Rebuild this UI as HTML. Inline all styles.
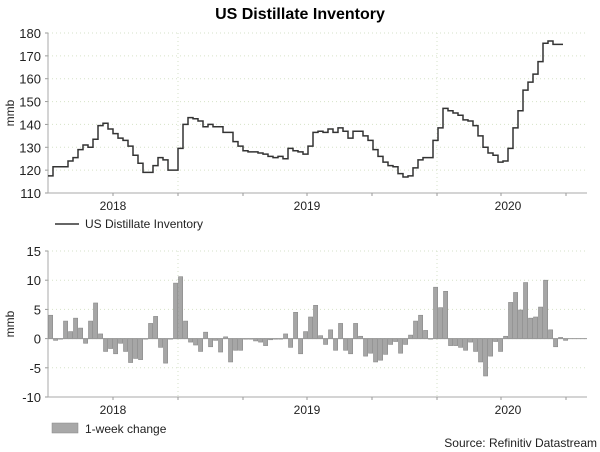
<!DOCTYPE html>
<html><head><meta charset="utf-8">
<style>
html,body{margin:0;padding:0;background:#fff;}
svg{display:block;font-family:"Liberation Sans",Arial,sans-serif;}
</style></head>
<body>
<svg id="c" width="600" height="452" viewBox="0 0 600 452" xmlns="http://www.w3.org/2000/svg">
<text x="300" y="19" text-anchor="middle" font-size="16" font-weight="bold" fill="#000">US Distillate Inventory</text>
<g id="topPanel"></g>
<g id="botPanel"></g>
<g>
<line x1="55" y1="224" x2="79" y2="224" stroke="#333" stroke-width="1.5"/>
<text x="85" y="228" font-size="12" fill="#222">US Distillate Inventory</text>
</g>
<g>
<rect x="52" y="423" width="26" height="10" fill="#a8a8a8" stroke="#888" stroke-width="0.5"/>
<text x="85" y="433" font-size="12" fill="#222">1-week change</text>
</g>
<text x="597" y="447" text-anchor="end" font-size="12" fill="#222">Source: Refinitiv Datastream</text>
</svg>
<script>
const levels = [117.5,121.5,121.5,121.5,124,125.5,129,131,130,133.5,139.5,140.5,138,136,134,133,130.5,126.5,123,119,119,122,125.5,124.5,120,120,129.5,140,143,142.5,141.5,139,140,139,139,136.5,136.5,132.5,130.5,128.5,128,128,127.5,127,126,125.5,126,125,129.5,128.5,128,127,130.5,136.5,137,136.5,138,136.5,138.5,137,134,137,137,135,133,129,126,123.5,122,121.5,118.5,117,117.5,121,124.5,125.5,125.5,133,138.5,147,146,145,144,142,141.5,139.5,135,130,127.5,126.5,123.5,124,129.5,138.5,146,155,158.5,162,167.5,175.5,176.5,175,175];
const changes = [4,-0.3,0,3,1.2,3.5,1.8,-0.8,3,6.1,0.8,-2.2,-1.7,-2.6,-0.8,-2.2,-4.1,-3.4,-3.6,0,2.6,3.8,-1.5,-4.2,0,9.5,10.6,3,-0.6,-1.1,-2.2,1.1,-1.4,-0.3,-2.3,0.3,-4,-2,-2,0,0,-0.4,-0.6,-1.2,-0.2,0,0,0.8,-1.5,4.5,-2.6,1.2,3.7,5.7,0.5,-1,1.5,-2,2.6,-2,-2.6,2.6,0.4,-3,-2.5,-4,-3.7,-2.7,-1,-0.5,-2.5,-1,0.6,3,4,1.4,0,8.8,5.3,8.1,-1.2,-1.2,-1.5,-2,-0.6,-2.2,-4,-6.4,-3,-0.5,-2.2,0.4,6.2,7.9,4.9,9.6,3.5,3.7,5.4,10,1.5,-1.4,0.2,-0.3];
const topTicks = [110,120,130,140,150,160,170,180];
const botTicks = [-10,-5,0,5,10,15];
const yearLabels = ["2018","2019","2020"];
const yearLabelX = [113,307,508];

const NS="http://www.w3.org/2000/svg";
function mk(p,t,a){const e=document.createElementNS(NS,t);for(const k in a)e.setAttribute(k,a[k]);p.appendChild(e);return e;}
const X0=48,X1=587,WK=5;
const xw=i=>X0+WK*i;
const yT=v=>33+(180-v)*(160/70);
const yB=v=>251+(15-v)*(146/25);
const tickXs=[113,178,243,307,372,437,501,566];

function frame(g,yf,ticks,ytop,ybot,labY){
  ticks.forEach(t=>{
    const y=yf(t);
    const gl=mk(g,'line',{x1:X0,x2:X1,y1:y,y2:y,stroke:'#d6e2c8','stroke-dasharray':'1,3'});
    
    
    mk(g,'line',{x1:X0-3,x2:X0,y1:y,y2:y,stroke:'#999'});
    const tx=mk(g,'text',{x:X0-7,y:y+5,'text-anchor':'end','font-size':'13',fill:'#222'});
    tx.textContent=t;
    
    
  });
  [178,437].forEach(x=>mk(g,'line',{x1:x,x2:x,y1:ytop,y2:ybot,stroke:'#d6e2c8','stroke-dasharray':'1,3'}));
  mk(g,'line',{x1:X0,x2:X0,y1:ytop,y2:ybot,stroke:'#aaa'});
  mk(g,'line',{x1:X0,x2:X1,y1:ybot,y2:ybot,stroke:'#aaa'});
  tickXs.forEach(x=>mk(g,'line',{x1:x,x2:x,y1:ybot,y2:ybot+3,stroke:'#999'}));
  yearLabels.forEach((l,i)=>{
    const tx=mk(g,'text',{x:yearLabelX[i],y:labY,'text-anchor':'middle','font-size':'12',fill:'#222'});
    tx.textContent=l;
    
    
  });
  const m=mk(g,'text',{x:0,y:0,'font-size':'12',fill:'#222','text-anchor':'middle',transform:`translate(14,${(ytop+ybot)/2}) rotate(-90)`});
  m.textContent='mmb';
  
  
}
const topG=document.getElementById('topPanel'),botG=document.getElementById('botPanel');
frame(topG,yT,topTicks,33,193,210);
frame(botG,yB,botTicks,251,397,414);

let d='';
levels.forEach((v,i)=>{const y=yT(v).toFixed(1);d+=(i?`L${xw(i)},${y}`:`M${xw(i)},${y}`)+`L${xw(i+1)},${y}`;});
const ln=mk(topG,'path',{d:d,fill:'none',stroke:'#333','stroke-width':'1.5'});



const y0=yB(0);
changes.forEach((v,i)=>{
  const y=yB(v);
  const r=mk(botG,'rect',{x:xw(i)+0.5,y:Math.min(y,y0),width:4.2,height:Math.max(Math.abs(y-y0),0.6),fill:'#a6a6a6',stroke:'#8a8a8a','stroke-width':'0.6'});
  
  
});
mk(botG,'line',{x1:X0,x2:X1,y1:y0,y2:y0,stroke:'#999','stroke-width':'1'});
</script>
</body></html>
